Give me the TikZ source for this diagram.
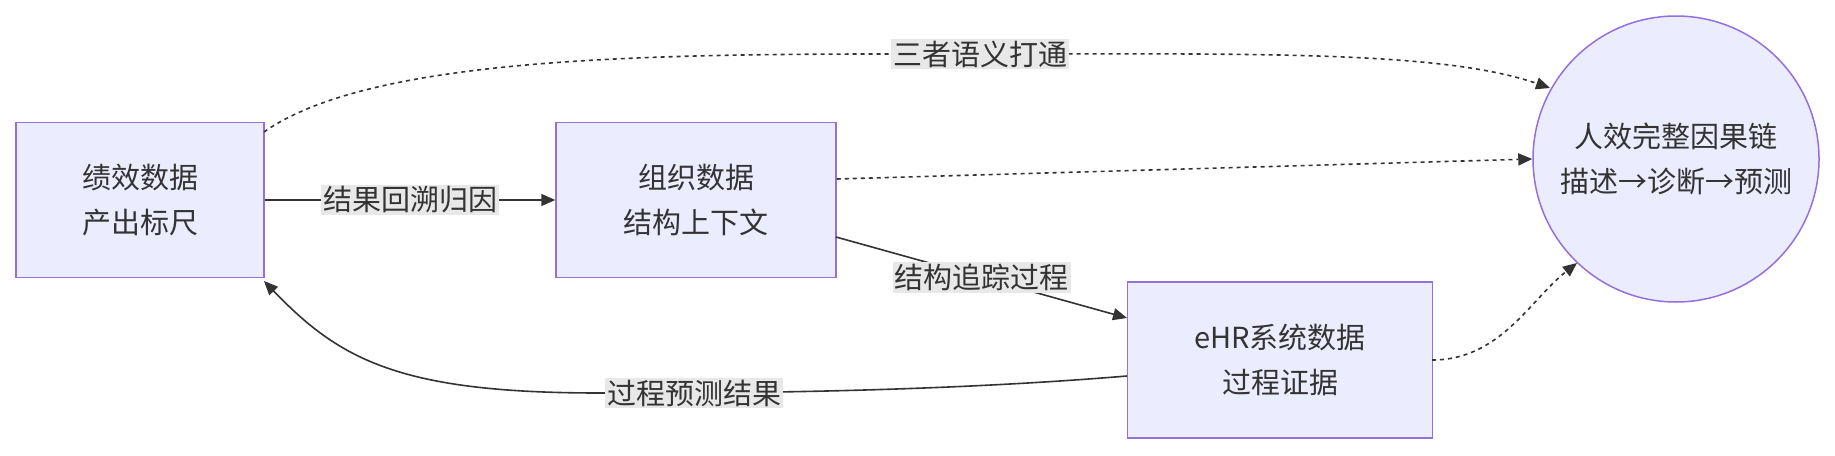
\documentclass[tikz,border=0pt]{standalone}
\usepackage{fontspec}
\setmainfont{Noto Sans CJK SC}
\usetikzlibrary{arrows.meta}
\definecolor{nfill}{HTML}{ECECFF}
\definecolor{nline}{HTML}{9370DB}
\definecolor{edge}{HTML}{333333}
\definecolor{lbg}{HTML}{E8E8E8}
\begin{document}
\begin{tikzpicture}[x=1pt,y=-1pt,
  box/.style={draw=nline,fill=nfill,line width=1.5pt,minimum width=#1,inner sep=0pt,align=center,font=\fontsize{29}{45}\selectfont,text=edge},
  lab/.style={fill=lbg,inner sep=2pt,font=\fontsize{29}{35}\selectfont,text=edge},
  con/.style={draw=edge,line width=1.6pt,-{Triangle[length=14pt,width=12pt]}},
  dot/.style={con,dash pattern=on 4pt off 4pt}]
\useasboundingbox (0,0) rectangle (1835,455);
\node[box=248pt,minimum height=155pt] (a) at (140,200) {绩效数据\\产出标尺};
\node[box=280pt,minimum height=155pt] (b) at (696,200) {组织数据\\结构上下文};
\node[box=305pt,minimum height=156pt] (c) at (1280,360) {eHR系统数据\\过程证据};
\node[box=286pt,circle,minimum size=286pt] (d) at (1676,159) {人效完整因果链\\描述→诊断→预测};
\coordinate (a1) at (264,132);
\coordinate (d1) at (1550,88);
\draw[dot] (a1) .. controls (380,50) and (700,54) .. (980,54) .. controls (1250,54) and (1440,50) .. (d1);
\node[lab] at (980,54) {三者语义打通};
\draw[dot] (b.east |- 0,179) -- (d.west);
\coordinate (c1) at (1432,360);
\coordinate (d2) at (1577,263);
\draw[dot] (c1) .. controls (1500,360) and (1530,300) .. (d2);
\draw[con] (a) -- (b) node[lab,midway] {结果回溯归因};
\coordinate (b1) at (836,237);
\coordinate (c2) at (1127,318);
\draw[con] (b1) -- (c2) node[lab,pos=0.5] {结构追踪过程};
\coordinate (c3) at (1127,376);
\coordinate (a2) at (264,281);
\draw[con] (c3) .. controls (900,395) and (650,393) .. (600,393) .. controls (400,393) and (340,360) .. (a2);
\node[lab] at (694,393) {过程预测结果};
\end{tikzpicture}
\end{document}
